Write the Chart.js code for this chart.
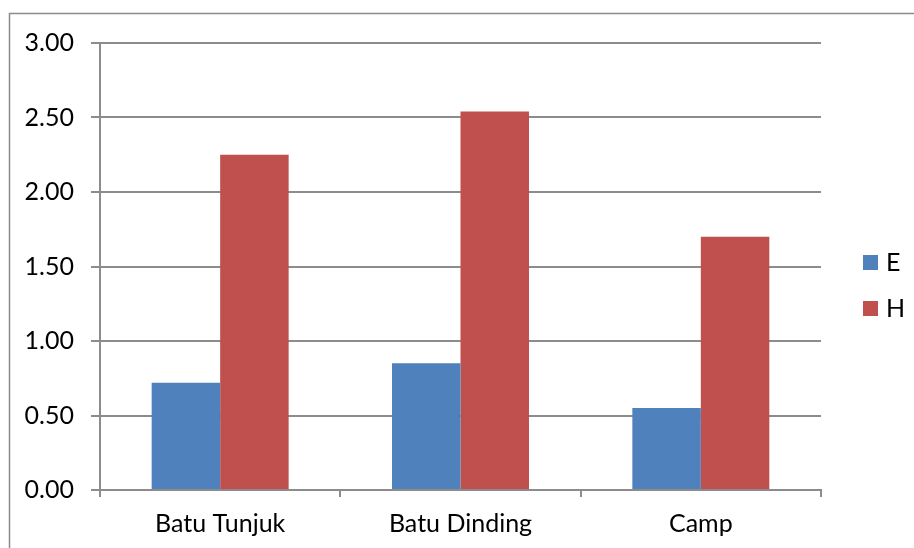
<!DOCTYPE html>
<html>
<head>
<meta charset="utf-8">
<script src="https://cdn.jsdelivr.net/npm/chart.js@4.4.0/dist/chart.umd.min.js"></script>
<style>
  html, body { margin: 0; padding: 0; background: #fff; }
  #wrap { width: 914px; height: 548px; }
</style>
</head>
<body>
<div id="wrap"><canvas id="bar" width="914" height="548"></canvas></div>
<script>
const sites = ['Batu Tunjuk', 'Batu Dinding', 'Camp'];
const valuesE = [0.72, 0.85, 0.55];
const valuesH = [2.25, 2.54, 1.70];
const yTicks = [0, 0.5, 1, 1.5, 2, 2.5, 3];

const axisGray = '#8c8c8c';
const labelFont = { family: 'Lato', size: 25 };

// outer frame + legend on the right
const framePlugin = {
  id: 'frame',
  afterDraw(chart) {
    const ctx = chart.ctx;
    ctx.save();
    ctx.strokeStyle = axisGray;
    ctx.lineWidth = 1.5;
    ctx.beginPath();
    ctx.moveTo(9.5, 548);
    ctx.lineTo(9.5, 13.5);
    ctx.lineTo(914, 13.5);
    ctx.stroke();

    ctx.font = '25px Lato';
    ctx.textBaseline = 'middle';
    chart.data.datasets.forEach((ds, i) => {
      const y = 262 + i * 46;
      ctx.fillStyle = ds.backgroundColor;
      ctx.fillRect(863, y - 7, 15, 15);
      ctx.fillStyle = '#000';
      ctx.fillText(ds.label, 886, y + 1);
    });
    ctx.restore();
  }
};

const barConfig = {
  type: 'bar',
  data: {
    labels: sites,
    datasets: [{
      label: 'E',
      data: valuesE,
      backgroundColor: '#4F81BD'
    }, {
      label: 'H',
      data: valuesH,
      backgroundColor: '#C0504D'
    }]
  },
  options: {
    responsive: false,
    animation: false,
    events: [],
    categoryPercentage: 0.57,
    barPercentage: 1,
    layout: {
      padding: { top: 43, right: 93, bottom: 0, left: 0 }
    },
    plugins: {
      legend: { display: false },
      tooltip: { enabled: false }
    },
    scales: {
      x: {
        grid: {
          offset: true,
          drawOnChartArea: false,
          color: axisGray,
          lineWidth: 2,
          tickLength: 7
        },
        border: { color: axisGray, width: 2 },
        ticks: {
          color: '#000',
          font: labelFont,
          padding: 12,
          maxRotation: 0
        },
        afterFit(scale) { scale.height = 58; }
      },
      y: {
        min: 0,
        max: 3,
        afterBuildTicks(scale) {
          scale.ticks = yTicks.map(v => ({ value: v }));
        },
        grid: {
          color: axisGray,
          lineWidth: 2,
          tickLength: 9
        },
        border: { color: axisGray, width: 2 },
        ticks: {
          color: '#000',
          font: labelFont,
          padding: 17,
          callback: v => Number(v).toFixed(2)
        },
        afterFit(scale) { scale.width = 100; }
      }
    }
  },
  plugins: [framePlugin]
};

window.onload = function() {
  new Chart(document.getElementById('bar'), barConfig);
};
</script>
</body>
</html>
